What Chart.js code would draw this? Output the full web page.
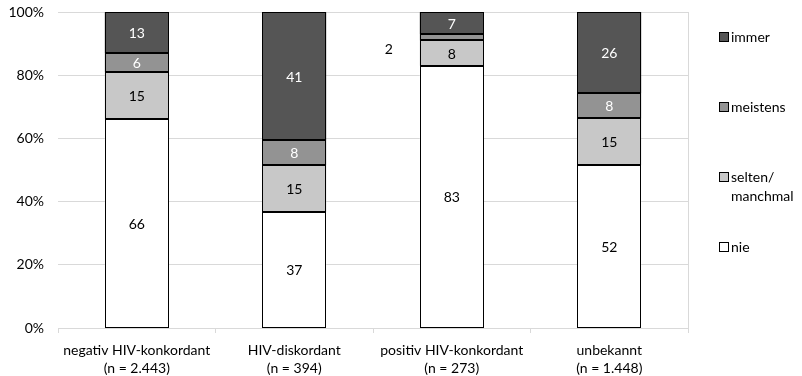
<!DOCTYPE html>
<html>
<head>
<meta charset="utf-8">
<script src="https://cdn.jsdelivr.net/npm/chart.js@4"></script>
<style>
  html, body { margin: 0; padding: 0; background: #fff; }
  #wrap { width: 802px; height: 376px; }
</style>
</head>
<body>
<div id="wrap"><canvas id="chart-container"></canvas></div>
<script>
const categories = [
  ["negativ HIV-konkordant", "(n = 2.443)"],
  ["HIV-diskordant", "(n = 394)"],
  ["positiv HIV-konkordant", "(n = 273)"],
  ["unbekannt", "(n = 1.448)"],
];
const nie = [66, 37, 83, 52];
const selten = [15, 15, 8, 15];
const meistens = [6, 8, 2, 8];
const immer = [13, 41, 7, 26];
const yTicks = [0, 20, 40, 60, 80, 100];

const series = [
  { label: ["nie"], values: nie, color: "#ffffff", text: "#000000" },
  { label: ["selten/", "manchmal"], values: selten, color: "#c8c8c8", text: "#000000" },
  { label: ["meistens"], values: meistens, color: "#939393", text: "#ffffff" },
  { label: ["immer"], values: immer, color: "#555555", text: "#ffffff" },
];

const totals = categories.map((c, i) =>
  series.reduce((s, d) => s + d.values[i], 0)
);

const FONT = "Lato, 'Open Sans', sans-serif";

// crisp black outlines + value labels inside the bars
const valueLabels = {
  id: "valueLabels",
  afterDatasetsDraw(chart) {
    const ctx = chart.ctx;
    ctx.save();
    ctx.strokeStyle = "#000";
    ctx.lineWidth = 1;
    chart.data.datasets.forEach((ds, di) => {
      chart.getDatasetMeta(di).data.forEach((bar) => {
        const l = Math.round(bar.x - bar.width / 2) + 0.5;
        const r = Math.round(bar.x + bar.width / 2) - 0.5;
        const t = Math.round(Math.min(bar.y, bar.base)) + 0.5;
        const b = Math.round(Math.max(bar.y, bar.base)) - 0.5;
        ctx.strokeRect(l, t, r - l, b - t);
      });
    });

    ctx.font = "14px " + FONT;
    ctx.textAlign = "center";
    ctx.textBaseline = "middle";
    chart.data.datasets.forEach((ds, di) => {
      const meta = chart.getDatasetMeta(di);
      meta.data.forEach((bar, i) => {
        const raw = series[di].values[i];
        const h = Math.abs(bar.base - bar.y);
        const cy = (bar.y + bar.base) / 2;
        if (h < 10) {
          // too small to hold its label: put it beside the bar
          ctx.fillStyle = "#000";
          ctx.fillText(raw, bar.x - 63, cy + 12);
        } else {
          ctx.fillStyle = series[di].text;
          ctx.fillText(raw, bar.x, cy + 1);
        }
      });
    });
    ctx.restore();
  },
};

// right plot border + legend on the right side
const sideStuff = {
  id: "sideStuff",
  afterDraw(chart) {
    const ctx = chart.ctx;
    const area = chart.chartArea;
    ctx.save();
    ctx.strokeStyle = "#d9d9d9";
    ctx.lineWidth = 1;
    ctx.beginPath();
    ctx.moveTo(Math.round(area.right) + 0.5, area.top);
    ctx.lineTo(Math.round(area.right) + 0.5, area.bottom + 5);
    ctx.stroke();

    ctx.font = "14px " + FONT;
    ctx.textBaseline = "middle";
    ctx.textAlign = "left";
    const x = Math.round(area.right) + 31;
    for (let k = 0; k < series.length; k++) {
      const s = series[series.length - 1 - k];
      const y = Math.round(area.top) + 25 + k * 70;
      ctx.fillStyle = s.color;
      ctx.fillRect(x + 0.5, y - 4.5, 9, 9);
      ctx.strokeStyle = "#000";
      ctx.strokeRect(x + 0.5, y - 4.5, 9, 9);
      ctx.fillStyle = "#000";
      s.label.forEach((line, j) => ctx.fillText(line, x + 12, y + j * 19));
    }
    ctx.restore();
  },
};

new Chart(document.getElementById("chart-container"), {
  type: "bar",
  data: {
    labels: categories,
    datasets: series.map((s) => ({
      label: s.label.join(" "),
      data: s.values.map((v, i) => (v / totals[i]) * 100),
      backgroundColor: s.color,
      borderWidth: 0,
      barPercentage: 0.406,
      categoryPercentage: 1,
    })),
  },
  options: {
    responsive: true,
    maintainAspectRatio: false,
    animation: false,
    layout: { padding: { top: 12, right: 114, left: 0, bottom: 0 } },
    plugins: {
      legend: { display: false },
      tooltip: { enabled: false },
    },
    scales: {
      x: {
        stacked: true,
        afterFit: (scale) => {
          scale.height = 48;
          scale.paddingLeft = 0;
          scale.paddingRight = 0;
        },
        grid: {
          drawOnChartArea: false,
          drawTicks: true,
          tickLength: 5,
          color: "#d9d9d9",
          offset: true,
        },
        border: { display: true, color: "#d9d9d9" },
        ticks: {
          color: "#000",
          font: { family: FONT, size: 14, lineHeight: 1.3 },
          padding: 8,
          maxRotation: 0,
        },
      },
      y: {
        stacked: true,
        min: 0,
        max: 100,
        afterFit: (scale) => {
          scale.width = 58;
          scale.paddingTop = 0;
          scale.paddingBottom = 0;
        },
        afterBuildTicks: (scale) => {
          scale.ticks = yTicks.map((v) => ({ value: v }));
        },
        grid: { color: "#d9d9d9", drawTicks: false },
        border: { display: false },
        ticks: {
          color: "#000",
          font: { family: FONT, size: 14 },
          padding: 14,
          callback: (v) => v + "%",
        },
      },
    },
  },
  plugins: [valueLabels, sideStuff],
});
</script>
</body>
</html>
